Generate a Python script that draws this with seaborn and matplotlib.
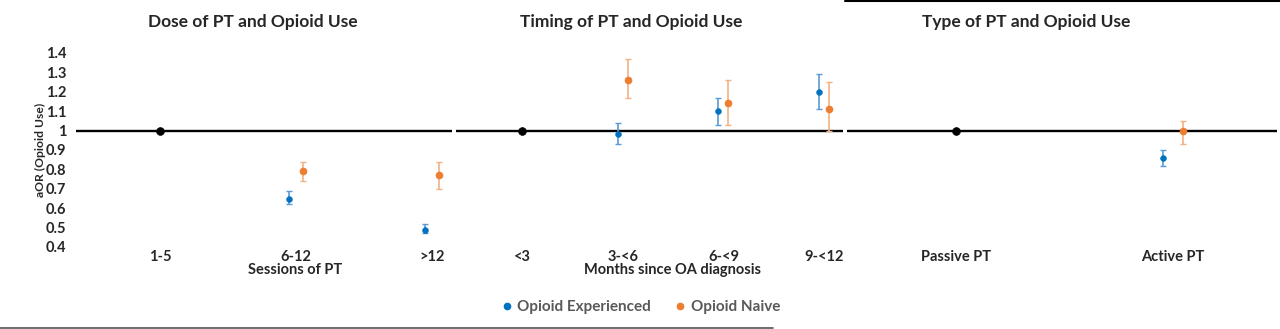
import matplotlib
matplotlib.use("Agg")
import matplotlib.pyplot as plt
import seaborn as sns
import numpy as np
import pandas as pd
from matplotlib.lines import Line2D

sns.set_style("white")
plt.rcParams['font.family'] = ['Lato', 'DejaVu Sans']

# ---- data ----
dose_cats = ["1-5", "6-12", ">12"]
dose_exp = [None, 0.65, 0.49]
dose_exp_lo = [None, 0.62, 0.47]
dose_exp_hi = [None, 0.69, 0.52]
dose_nai = [None, 0.79, 0.77]
dose_nai_lo = [None, 0.74, 0.70]
dose_nai_hi = [None, 0.84, 0.84]

timing_cats = ["<3", "3-<6", "6-<9", "9-<12"]
timing_exp = [None, 0.98, 1.10, 1.20]
timing_exp_lo = [None, 0.93, 1.03, 1.11]
timing_exp_hi = [None, 1.04, 1.17, 1.29]
timing_nai = [None, 1.26, 1.14, 1.11]
timing_nai_lo = [None, 1.17, 1.03, 1.00]
timing_nai_hi = [None, 1.37, 1.26, 1.25]

type_cats = ["Passive PT", "Active PT"]
type_exp = [None, 0.86]
type_exp_lo = [None, 0.82]
type_exp_hi = [None, 0.90]
type_nai = [None, 1.00]
type_nai_lo = [None, 0.93]
type_nai_hi = [None, 1.05]

reference_value = 1.0
yticks = [0.4, 0.5, 0.6, 0.7, 0.8, 0.9, 1.0, 1.1, 1.2, 1.3, 1.4]
ytick_labels = ["0.4", "0.5", "0.6", "0.7", "0.8", "0.9", "1", "1.1", "1.2", "1.3", "1.4"]

titles = ["Dose of PT and Opioid Use", "Timing of PT and Opioid Use", "Type of PT and Opioid Use"]
xlabels = ["Sessions of PT", "Months since OA diagnosis", ""]
series_names = ["Opioid Experienced", "Opioid Naive"]

BLUE = "#0070C0"
BLUE_ERR = "#5B9BD5"
ORANGE = "#ED7D31"
ORANGE_ERR = "#F4B183"

W, H = 1280, 329
fig = plt.figure(figsize=(W / 100, H / 100), dpi=100)

def fx(px):
    return px / W

def fy(py):
    return 1 - py / H

y_bottom_px, y_top_px = 247, 53
panels = [
    dict(cats=dose_cats, exp=dose_exp, elo=dose_exp_lo, ehi=dose_exp_hi,
         nai=dose_nai, nlo=dose_nai_lo, nhi=dose_nai_hi,
         px=(76, 452), xlim=(-0.618, 2.147), off=0.05, title=titles[0], xl=xlabels[0],
         title_x=253, xl_x=295),
    dict(cats=timing_cats, exp=timing_exp, elo=timing_exp_lo, ehi=timing_exp_hi,
         nai=timing_nai, nlo=timing_nai_lo, nhi=timing_nai_hi,
         px=(456, 843), xlim=(-0.66, 3.19), off=0.05, title=titles[1], xl=xlabels[1],
         title_x=631, xl_x=673),
    dict(cats=type_cats, exp=type_exp, elo=type_exp_lo, ehi=type_exp_hi,
         nai=type_nai, nlo=type_nai_lo, nhi=type_nai_hi,
         px=(847, 1277), xlim=(-0.502, 1.479), off=0.046, title=titles[2], xl=xlabels[2],
         title_x=1026, xl_x=None),
]

for i, p in enumerate(panels):
    x0, x1 = p["px"]
    ax = fig.add_axes([fx(x0), fy(y_bottom_px), fx(x1 - x0), (y_bottom_px - y_top_px) / H])
    ax.set_xlim(*p["xlim"])
    ax.set_ylim(0.4, 1.4)
    for s in ax.spines.values():
        s.set_visible(False)
    ax.axhline(reference_value, color="black", lw=1.7, zorder=1)

    n = len(p["cats"])
    idx = np.arange(n)
    # reference category
    ref_df = pd.DataFrame({"x": [0], "y": [reference_value]})
    sns.scatterplot(data=ref_df, x="x", y="y", ax=ax, color="black", s=32,
                    edgecolor="black", zorder=4, legend=False)

    for vals, lo, hi, off, col, ecol, ms in [
        (p["exp"], p["elo"], p["ehi"], -p["off"], BLUE, BLUE_ERR, 18),
        (p["nai"], p["nlo"], p["nhi"], p["off"], ORANGE, ORANGE_ERR, 26),
    ]:
        xs = [j + off for j in idx if vals[j] is not None]
        ys = [vals[j] for j in idx if vals[j] is not None]
        los = [lo[j] for j in idx if vals[j] is not None]
        his = [hi[j] for j in idx if vals[j] is not None]
        yerr = [np.array(ys) - np.array(los), np.array(his) - np.array(ys)]
        ax.errorbar(xs, ys, yerr=yerr, fmt="none", ecolor=ecol, elinewidth=1.2,
                    capsize=2.5, capthick=1.0, zorder=2)
        df = pd.DataFrame({"x": xs, "y": ys})
        sns.scatterplot(data=df, x="x", y="y", ax=ax, color=col, s=ms,
                        edgecolor=col, zorder=3, legend=False)

    ax.set_xticks(idx)
    ax.set_xticklabels(p["cats"], fontsize=10.5, fontweight="bold")
    ax.tick_params(axis="x", length=0, pad=2)
    ax.set_xlabel("")
    ax.set_ylabel("")
    if i == 0:
        ax.set_yticks(yticks)
        ax.set_yticklabels(ytick_labels, fontsize=10.5, fontweight="bold")
        ax.tick_params(axis="y", length=0, pad=7)
    else:
        ax.set_yticks([])
    fig.text(fx(p["title_x"]), fy(22), p["title"], ha="center", va="center",
             fontsize=12.5, fontweight="bold")
    if p["xl_x"] is not None and p["xl"]:
        fig.text(fx(p["xl_x"]), fy(270), p["xl"], ha="center", va="center",
                 fontsize=10.5, fontweight="bold")

fig.text(fx(40), fy(150), "aOR (Opioid Use)", rotation=90, ha="center", va="center",
         fontsize=8.7, fontweight="bold")

# legend
handles = [Line2D([], [], marker="o", ls="none", color=BLUE, markersize=4.5),
           Line2D([], [], marker="o", ls="none", color=ORANGE, markersize=4.5)]
leg = fig.legend(handles, series_names, loc="center", bbox_to_anchor=(fx(641), fy(307)),
                 ncol=2, frameon=False, handlelength=0.6, handletextpad=0.4,
                 columnspacing=1.6, prop={"size": 11, "weight": "bold"})
for t in leg.get_texts():
    t.set_color("#595959")

# panel border lines
fig.add_artist(Line2D([0, fx(773)], [fy(328), fy(328)], color="#555555", lw=1.2))
fig.add_artist(Line2D([fx(845), 1], [fy(0.5), fy(0.5)], color="black", lw=1.5))

fig.savefig("out.png", dpi=100)
